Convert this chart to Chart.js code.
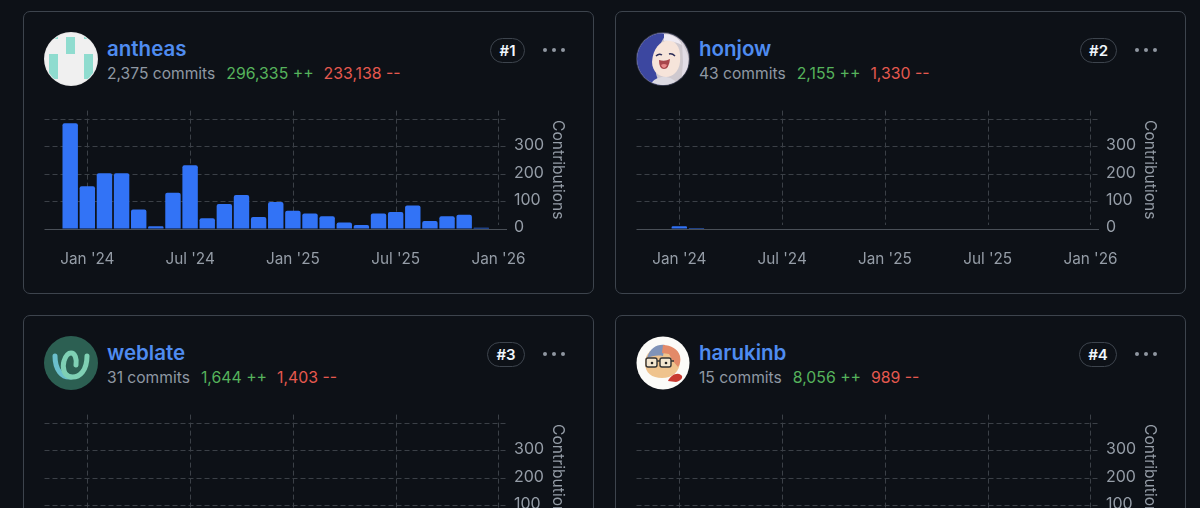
<!DOCTYPE html>
<html><head><meta charset="utf-8">
<script src="https://cdn.jsdelivr.net/npm/chart.js@4"></script>
<style>
html,body{margin:0;padding:0;background:#0d1117;width:1200px;height:508px;overflow:hidden;font-family:Inter,"Liberation Sans",sans-serif}
.card{position:absolute;width:569px;height:281px;border:1px solid #3d444d;border-radius:7px;background:#0d1117;box-sizing:content-box}
.av{position:absolute;left:20px;top:20px;width:54px;height:54px}
.name{position:absolute;left:83px;top:24px;font-size:20.5px;font-weight:600;color:#4f8cf0;line-height:26px}
.stats{position:absolute;left:83px;top:52px;font-size:15.6px;line-height:20px;white-space:nowrap;color:#8f98a3}
.stats .a{color:#56b35c;margin-left:11px;font-size:15.8px}.stats .d{color:#e5594f;margin-left:10px;font-size:15.8px}
.badge{position:absolute;top:26px;height:23px;line-height:23px;border:1px solid #3d444d;border-radius:13px;color:#f0f6fc;font-size:15px;font-weight:600;text-align:center;box-sizing:content-box}
.dots{position:absolute;left:519px;top:36px;width:22px;height:4px}
.dots i{position:absolute;top:0;width:4px;height:4px;border-radius:50%;background:#8f97a1}
.wrap{position:absolute;left:7px;top:82px;width:556px;height:196px}
</style></head><body>
<script>
const months = ["Nov '23","Dec '23","Jan '24","Feb '24","Mar '24","Apr '24","May '24","Jun '24","Jul '24","Aug '24","Sep '24","Oct '24","Nov '24","Dec '24","Jan '25","Feb '25","Mar '25","Apr '25","May '25","Jun '25","Jul '25","Aug '25","Sep '25","Oct '25","Nov '25","Dec '25","Jan '26"];
const tickMonths = ["Jan '24","Jul '24","Jan '25","Jul '25","Jan '26"];
const antheasValues = [0,387,156,204,204,71,10,133,233,39,91,124,44,99,67,57,47,24,15,57,62,86,29,47,52,5,0];
const honjowValues = [0,0,10,4,0,0,0,0,0,0,0,0,0,0,0,0,0,0,0,0,0,0,0,0,0,0,0];
const weblateValues = [0,0,0,0,0,0,0,0,0,0,0,0,0,0,0,0,0,0,0,0,0,0,0,0,0,0,0];
const harukinbValues = [0,0,0,0,0,0,0,0,0,0,0,0,0,0,0,0,0,0,0,0,0,0,0,0,0,0,0];
const yTicks = [0,100,200,300];
const yMax = 433;

const avatars = {
antheas:`<svg viewBox="0 0 54 54"><defs><clipPath id="c1"><circle cx="27" cy="27" r="26"/></clipPath></defs><circle cx="27" cy="27" r="27" fill="#e8e8e8"/><g clip-path="url(#c1)"><rect width="54" height="54" fill="#f0f0f0"/><rect x="22" y="5" width="9" height="17" fill="#8fdccf"/><rect x="5" y="22" width="9" height="25" fill="#8fdccf"/><rect x="40" y="22" width="9" height="25" fill="#8fdccf"/><rect x="5" y="0" width="9" height="7" fill="#8fdccf"/><rect x="40" y="0" width="9" height="7" fill="#8fdccf"/></g></svg>`,
honjow:`<svg viewBox="0 0 54 54"><defs><clipPath id="c2"><circle cx="27" cy="27" r="26"/></clipPath></defs><circle cx="27" cy="27" r="27" fill="#3b3f52"/><g clip-path="url(#c2)"><rect width="54" height="54" fill="#cfc9cf"/><path d="M0 54V10Q14-2 30 2 20 18 18 32 20 44 24 54z" fill="#3c47a0"/><path d="M16 30C17 16 24 9 33 8c9 2 12 10 11 22-1 10-8 15-14 15S16 40 16 30z" fill="#f6e4da"/><path d="M28 2c8 0 15 4 18 11-6-3-13-5-18-4z" fill="#eeeaf2"/><path d="M46 10l6 14v30h-7l2-24z" fill="#e2dde6"/><path d="M20 24q3-3 6-1M33 22q3-1 6 2" stroke="#2a2c58" stroke-width="1.500" fill="none"/><path d="M23 28q6 2 11-1-1 10-6 10t-5-9z" fill="#a8474c"/><path d="M25 33q3-2 6 0-1 3-3 3t-3-3z" fill="#e8898a"/><path d="M14 54c2-6 8-9 14-9s12 3 14 9z" fill="#dcdae2"/></g></svg>`,
weblate:`<svg viewBox="0 0 54 54"><circle cx="27" cy="27" r="27" fill="#2c5f52"/><path d="M11 20c0 14 7 22 16 21" stroke="#6bbfcc" stroke-width="5" fill="none" stroke-linecap="round"/><path d="M43 20c0 14-7 22-16 21-7-1-9-9-7-16 2-6 5-8 7-8 4 0 6 6 5 12" stroke="#7fd0b4" stroke-width="5" fill="none" stroke-linecap="round"/></svg>`,
harukinb:`<svg viewBox="0 0 54 54"><circle cx="27" cy="27" r="26.500" fill="#fbfbf8"/><path d="M9 27c0-10 8-16 17-16s18 5 18 14c0 11-8 17-18 17S9 37 9 27z" fill="#efc38d"/><path d="M11 22c3-10 10-14 18-13l-2 11c-6-1-11 0-16 2z" fill="#7f93b8"/><path d="M27 9c8 0 15 4 17 11 1 5 0 8-2 11l-5-6-4-7-7-1z" fill="#e38a68"/><rect x="10" y="22" width="11" height="9" rx="2" fill="#f3e6cf" stroke="#333" stroke-width="1.400"/><rect x="24" y="22" width="11" height="9" rx="2" fill="#f3e6cf" stroke="#333" stroke-width="1.400"/><path d="M21 25h3M35 25h3" stroke="#333" stroke-width="1.400"/><circle cx="16" cy="27" r="1.300" fill="#222"/><circle cx="30" cy="27" r="1.300" fill="#222"/><path d="M32 45c3-6 9-9 13-6 3 2 0 6-5 7z" fill="#c93a30"/></svg>`};

const cards = [
 {name:"antheas",commits:"2,375",add:"296,335",del:"233,138",rank:"#1",left:23,top:11,values:antheasValues,bl:466,bw:33},
 {name:"honjow",commits:"43",add:"2,155",del:"1,330",rank:"#2",left:615,top:11,values:honjowValues,bl:464,bw:35},
 {name:"weblate",commits:"31",add:"1,644",del:"1,403",rank:"#3",left:23,top:315,values:weblateValues,bl:463,bw:36},
 {name:"harukinb",commits:"15",add:"8,056",del:"989",rank:"#4",left:615,top:315,values:harukinbValues,bl:463,bw:36}
];

const GRID = "#3b4047";
const TXT = "#959da7";
const FONT = 'Inter, "Liberation Sans", sans-serif';
const DASH = [5,3];

const shortVerticalGrid = {
  id:"shortVerticalGrid",
  beforeDatasetsDraw(chart){
    const {ctx, scales:{x,y}} = chart;
    ctx.save();
    ctx.strokeStyle = GRID; ctx.lineWidth = 1; ctx.setLineDash(DASH);
    x.ticks.forEach(t=>{
      if(!tickMonths.includes(months[t.value])) return;
      const px = Math.round(x.getPixelForValue(t.value))+.5;
      ctx.beginPath(); ctx.moveTo(px,y.getPixelForValue(yMax)); ctx.lineTo(px,y.getPixelForValue(0)-4); ctx.stroke();
    });
    ctx.restore();
  }
};

cards.forEach(c=>{
  const d = document.createElement("div");
  d.className = "card";
  d.style.left = c.left+"px"; d.style.top = c.top+"px";
  d.innerHTML = `<div class="av">${avatars[c.name]}</div>
  <div class="name">${c.name}</div>
  <div class="stats">${c.commits} commits<span class="a">${c.add} ++</span><span class="d">${c.del} --</span></div>
  <div class="badge" style="left:${c.bl}px;width:${c.bw}px">${c.rank}</div>
  <div class="dots"><i style="left:0"></i><i style="left:9px"></i><i style="left:18px"></i></div>
  <div class="wrap"><canvas></canvas></div>`;
  document.body.appendChild(d);
  new Chart(d.querySelector("canvas"),{
    type:"bar",
    data:{labels:months,datasets:[{label:"Contributions",data:c.values,backgroundColor:"#3273f6",borderRadius:{topLeft:2,topRight:2},borderSkipped:"bottom",barPercentage:.9,categoryPercentage:1}]},
    plugins:[shortVerticalGrid],
    options:{
      responsive:true,maintainAspectRatio:false,animation:false,
      layout:{autoPadding:false,padding:{left:13.5,top:0,right:20,bottom:0}},
      plugins:{legend:{display:false},tooltip:{enabled:false}},
      scales:{
        x:{type:"category",offset:true,
           grid:{display:false},
           border:{display:false},
           afterFit(s){s.height=61},
           ticks:{autoSkip:false,maxRotation:0,minRotation:0,color:TXT,padding:13,font:{family:FONT,size:15.3},
             callback(v){const l=months[v];return tickMonths.includes(l)?l:""}}},
        y:{position:"right",min:0,max:yMax,
           afterFit(s){s.width=60},
           afterBuildTicks(s){s.ticks=[0,100,200,300,400].map(v=>({value:v}))},
           grid:{color:(ctx)=>ctx.tick&&ctx.tick.value===0?"#4a5058":GRID,drawTicks:false},
           border:{display:false,dash:(ctx)=>ctx.tick&&ctx.tick.value===0?[]:DASH},
           ticks:{color:TXT,padding:7,labelOffset:-1.5,font:{family:FONT,size:16},callback(v){return yTicks.includes(v)?String(v):""}},
           title:{display:true,text:"Contributions",color:TXT,padding:{top:0,bottom:0},font:{family:FONT,size:15.6}}}
      }
    }
  });
});
</script>
</body></html>
